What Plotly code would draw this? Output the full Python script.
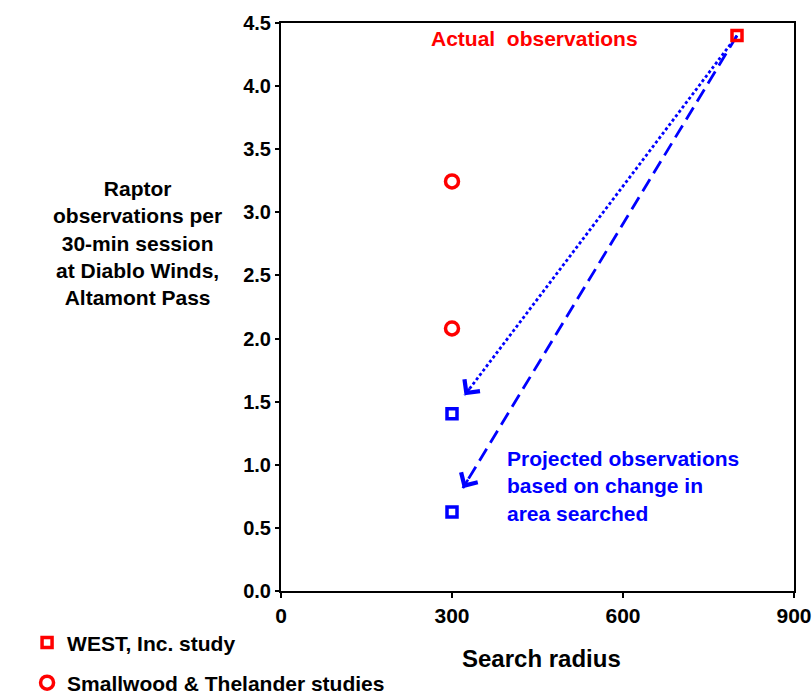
import plotly.graph_objects as go

# ---- data ----
west_radius = [800]
west_obs = [4.4]
smallwood_radius = [300, 300]
smallwood_obs = [3.245, 2.08]
projected_radius = [300, 300]
projected_obs = [1.405, 0.625]

# projection arrows (from WEST point to projected points)
arrow_start_x = [800, 800]
arrow_start_y = [4.4, 4.4]
arrow_end_x = [322, 319]
arrow_end_y = [1.55, 0.815]
arrow_dash = ["3px,2.5px", "14px,7px"]

x_ticks = [0, 300, 600, 900]
y_ticks = [0.0, 0.5, 1.0, 1.5, 2.0, 2.5, 3.0, 3.5, 4.0, 4.5]
y_tick_labels = ["0.0", "0.5", "1.0", "1.5", "2.0", "2.5", "3.0", "3.5", "4.0", "4.5"]

RED = "#FF0000"
BLUE = "#0000FF"
FONT = "Arial, Liberation Sans, sans-serif"

fig = go.Figure()

# arrow shafts
for sx, sy, ex, ey, d in zip(arrow_start_x, arrow_start_y, arrow_end_x, arrow_end_y, arrow_dash):
    fig.add_trace(go.Scatter(x=[sx, ex], y=[sy, ey], mode="lines",
                             line=dict(color=BLUE, width=2.8, dash=d),
                             showlegend=False, hoverinfo="skip"))

fig.add_trace(go.Scatter(x=projected_radius, y=projected_obs, mode="markers",
                         marker=dict(symbol="square-open", size=10, color=BLUE,
                                     line=dict(width=3.5, color=BLUE)),
                         showlegend=False))
fig.add_trace(go.Scatter(x=west_radius, y=west_obs, mode="markers", name="WEST, Inc. study",
                         marker=dict(symbol="square-open", size=10, color=RED,
                                     line=dict(width=3.5, color=RED)),
                         legend="legend"))
fig.add_trace(go.Scatter(x=smallwood_radius, y=smallwood_obs, mode="markers",
                         name="Smallwood & Thelander studies",
                         marker=dict(symbol="circle-open", size=13, color=RED,
                                     line=dict(width=3.5, color=RED)),
                         legend="legend2"))

annotations = []
# arrow heads
for sx, sy, ex, ey in zip(arrow_start_x, arrow_start_y, arrow_end_x, arrow_end_y):
    annotations.append(dict(x=ex, y=ey, xref="x", yref="y",
                            ax=ex + 0.02 * (sx - ex), ay=ey + 0.02 * (sy - ey),
                            axref="x", ayref="y", text="", showarrow=True,
                            font=dict(size=1), borderpad=0,
                            arrowhead=4, arrowsize=1.5, arrowwidth=2.5, arrowcolor=BLUE))

annotations.append(dict(x=445, y=4.375, xref="x", yref="y", text="Actual&nbsp; observations",
                        showarrow=False, xanchor="center", yanchor="middle",
                        font=dict(family=FONT, size=21, color=RED, weight=700)))
annotations.append(dict(x=393, y=0.83, xref="x", yref="y",
                        text="Projected observations<br>based on change in<br>area searched",
                        showarrow=False, xanchor="left", yanchor="middle", align="left",
                        font=dict(family=FONT, size=21, color=BLUE, weight=700)))
annotations.append(dict(x=-0.2788, y=0.6127, xref="paper", yref="paper",
                        text="Raptor<br>observations per<br>30-min session<br>at Diablo Winds,<br>Altamont Pass",
                        showarrow=False, xanchor="center", yanchor="middle", align="center",
                        font=dict(family=FONT, size=21, color="black", weight=700)))
annotations.append(dict(x=0.507, y=-0.1197, xref="paper", yref="paper", text="Search radius",
                        showarrow=False, xanchor="center", yanchor="middle",
                        font=dict(family=FONT, size=24, color="black", weight=700)))

fig.update_layout(
    width=812, height=694,
    margin=dict(l=281, r=18, t=23, b=103, autoexpand=False),
    plot_bgcolor="white", paper_bgcolor="white",
    font=dict(family=FONT, color="black"),
    annotations=annotations,
    legend=dict(x=-0.495, y=-0.0915, xanchor="left", yanchor="middle",
                bgcolor="rgba(0,0,0,0)", font=dict(family=FONT, size=21, weight=700)),
    legend2=dict(x=-0.495, y=-0.162, xanchor="left", yanchor="middle",
                 bgcolor="rgba(0,0,0,0)", font=dict(family=FONT, size=21, weight=700)),
    xaxis=dict(range=[0, 900], tickvals=x_ticks, ticks="outside", ticklen=5, tickwidth=1.5,
               tickcolor="black", showline=True, linecolor="black", linewidth=2, mirror=True,
               showgrid=False, zeroline=False, automargin=False,
               tickfont=dict(family=FONT, size=21, weight=700)),
    yaxis=dict(range=[0, 4.5], tickvals=y_ticks, ticktext=y_tick_labels, ticks="outside",
               ticklen=4, tickwidth=1.5, tickcolor="black", showline=True, linecolor="black",
               linewidth=2, mirror=True, showgrid=False, zeroline=False, automargin=False,
               tickfont=dict(family=FONT, size=20, weight=700)),
)

fig.write_html("out.html", config={"displayModeBar": False},
               post_script="document.body.style.margin='0';document.body.style.overflow='hidden';")
